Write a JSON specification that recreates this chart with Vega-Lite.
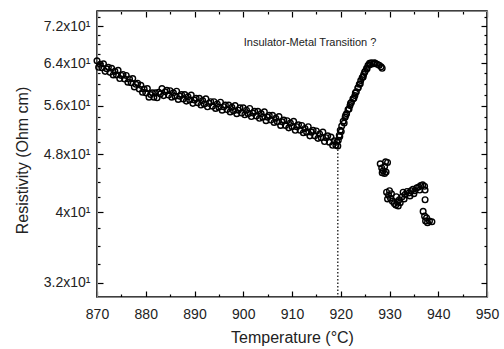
{
  "$schema": "https://vega.github.io/schema/vega-lite/v6.json",
  "autosize": {"type": "none"},
  "padding": {"left": 97, "top": 11, "right": 17, "bottom": 52},
  "width": 390,
  "height": 286,
  "background": "white",
  "config": {
    "view": {"stroke": "black", "strokeWidth": 1.5},
    "axis": {"grid": false, "labelFont": "Liberation Sans", "labelFontSize": 14, "labelColor": "#222", "titleFont": "Liberation Sans", "titleFontSize": 16, "titleFontWeight": "normal", "titleColor": "#222"}
  },
  "datasets": {
    "pts": [
      {"T": 870.0, "R": 64.5}, {"T": 870.33, "R": 63.2}, {"T": 870.67, "R": 63.8},
      {"T": 871.0, "R": 63.1}, {"T": 871.33, "R": 63.9}, {"T": 871.67, "R": 62.4},
      {"T": 872.0, "R": 62.9}, {"T": 872.33, "R": 63.2}, {"T": 872.67, "R": 62.2},
      {"T": 873.0, "R": 63.0}, {"T": 873.33, "R": 61.7}, {"T": 873.67, "R": 62.4},
      {"T": 874.0, "R": 61.7}, {"T": 874.33, "R": 62.6}, {"T": 874.67, "R": 61.0},
      {"T": 875.0, "R": 61.6}, {"T": 875.33, "R": 61.8}, {"T": 875.67, "R": 60.9},
      {"T": 876.0, "R": 61.6}, {"T": 876.33, "R": 60.3}, {"T": 876.67, "R": 60.9},
      {"T": 877.0, "R": 60.2}, {"T": 877.33, "R": 61.0}, {"T": 877.67, "R": 59.4},
      {"T": 878.0, "R": 59.9}, {"T": 878.33, "R": 60.1}, {"T": 878.67, "R": 59.0},
      {"T": 879.0, "R": 59.7}, {"T": 879.33, "R": 58.4}, {"T": 879.67, "R": 59.0},
      {"T": 880.0, "R": 58.3}, {"T": 880.33, "R": 59.1}, {"T": 880.67, "R": 57.5},
      {"T": 881.0, "R": 58.0}, {"T": 881.33, "R": 58.3}, {"T": 881.67, "R": 57.5},
      {"T": 882.0, "R": 58.3}, {"T": 882.33, "R": 57.4}, {"T": 882.67, "R": 58.4},
      {"T": 883.0, "R": 58.1}, {"T": 883.33, "R": 59.1}, {"T": 883.67, "R": 57.8},
      {"T": 884.0, "R": 58.5}, {"T": 884.33, "R": 58.8}, {"T": 884.67, "R": 57.9},
      {"T": 885.0, "R": 58.7}, {"T": 885.33, "R": 57.5}, {"T": 885.67, "R": 58.3},
      {"T": 886.0, "R": 57.7}, {"T": 886.33, "R": 58.6}, {"T": 886.67, "R": 57.1},
      {"T": 887.0, "R": 57.7}, {"T": 887.33, "R": 58.0}, {"T": 887.67, "R": 57.2},
      {"T": 888.0, "R": 58.0}, {"T": 888.33, "R": 56.8}, {"T": 888.67, "R": 57.6},
      {"T": 889.0, "R": 57.0}, {"T": 889.33, "R": 57.9}, {"T": 889.67, "R": 56.4},
      {"T": 890.0, "R": 57.0}, {"T": 890.33, "R": 57.3}, {"T": 890.67, "R": 56.5},
      {"T": 891.0, "R": 57.3}, {"T": 891.33, "R": 56.1}, {"T": 891.67, "R": 56.9},
      {"T": 892.0, "R": 56.3}, {"T": 892.33, "R": 57.2}, {"T": 892.67, "R": 55.8},
      {"T": 893.0, "R": 56.4}, {"T": 893.33, "R": 56.7}, {"T": 893.67, "R": 55.9},
      {"T": 894.0, "R": 56.7}, {"T": 894.33, "R": 55.5}, {"T": 894.67, "R": 56.3},
      {"T": 895.0, "R": 55.7}, {"T": 895.33, "R": 56.6}, {"T": 895.67, "R": 55.2},
      {"T": 896.0, "R": 55.8}, {"T": 896.33, "R": 56.1}, {"T": 896.67, "R": 55.3},
      {"T": 897.0, "R": 56.1}, {"T": 897.33, "R": 54.9}, {"T": 897.67, "R": 55.7},
      {"T": 898.0, "R": 55.1}, {"T": 898.33, "R": 56.0}, {"T": 898.67, "R": 54.6},
      {"T": 899.0, "R": 55.2}, {"T": 899.33, "R": 55.6}, {"T": 899.67, "R": 54.7},
      {"T": 900.0, "R": 55.6}, {"T": 900.33, "R": 54.4}, {"T": 900.67, "R": 55.2},
      {"T": 901.0, "R": 54.6}, {"T": 901.33, "R": 55.5}, {"T": 901.67, "R": 54.1},
      {"T": 902.0, "R": 54.7}, {"T": 902.33, "R": 55.0}, {"T": 902.67, "R": 54.2},
      {"T": 903.0, "R": 55.0}, {"T": 903.33, "R": 53.8}, {"T": 903.67, "R": 54.6},
      {"T": 904.0, "R": 54.0}, {"T": 904.33, "R": 54.9}, {"T": 904.67, "R": 53.4},
      {"T": 905.0, "R": 54.0}, {"T": 905.33, "R": 54.3}, {"T": 905.67, "R": 53.5},
      {"T": 906.0, "R": 54.3}, {"T": 906.33, "R": 53.1}, {"T": 906.67, "R": 53.8},
      {"T": 907.0, "R": 53.2}, {"T": 907.33, "R": 54.1}, {"T": 907.67, "R": 52.6},
      {"T": 908.0, "R": 53.2}, {"T": 908.33, "R": 53.5}, {"T": 908.67, "R": 52.6},
      {"T": 909.0, "R": 53.4}, {"T": 909.33, "R": 52.2}, {"T": 909.67, "R": 53.0},
      {"T": 910.0, "R": 52.4}, {"T": 910.33, "R": 53.3}, {"T": 910.67, "R": 51.8},
      {"T": 911.0, "R": 52.4}, {"T": 911.33, "R": 52.7}, {"T": 911.67, "R": 51.8},
      {"T": 912.0, "R": 52.6}, {"T": 912.33, "R": 51.4}, {"T": 912.67, "R": 52.1},
      {"T": 913.0, "R": 51.5}, {"T": 913.33, "R": 52.4}, {"T": 913.67, "R": 50.9},
      {"T": 914.0, "R": 51.5}, {"T": 914.33, "R": 51.8}, {"T": 914.67, "R": 50.9},
      {"T": 915.0, "R": 51.7}, {"T": 915.33, "R": 50.5}, {"T": 915.67, "R": 51.2},
      {"T": 916.0, "R": 50.6}, {"T": 916.33, "R": 51.5}, {"T": 916.67, "R": 50.0},
      {"T": 917.0, "R": 50.6}, {"T": 917.33, "R": 50.9}, {"T": 917.67, "R": 49.9},
      {"T": 918.0, "R": 50.7}, {"T": 918.33, "R": 49.4}, {"T": 918.67, "R": 50.1},
      {"T": 919.0, "R": 49.4}, {"T": 919.2, "R": 49.9}, {"T": 919.4, "R": 49.3},
      {"T": 919.5, "R": 50.2}, {"T": 919.7, "R": 51.0}, {"T": 919.9, "R": 51.8}, {"T": 920.2, "R": 52.5}, {"T": 920.5, "R": 53.3},
      {"T": 920.9, "R": 54.0}, {"T": 921.2, "R": 54.6}, {"T": 921.5, "R": 55.3}, {"T": 921.9, "R": 56.0}, {"T": 922.2, "R": 56.6},
      {"T": 922.5, "R": 57.2}, {"T": 922.9, "R": 57.8}, {"T": 923.2, "R": 58.5}, {"T": 923.5, "R": 59.2}, {"T": 923.8, "R": 59.9},
      {"T": 924.1, "R": 60.6}, {"T": 924.4, "R": 61.2}, {"T": 924.7, "R": 61.8}, {"T": 925.0, "R": 62.4}, {"T": 925.3, "R": 63.0},
      {"T": 925.6, "R": 63.6}, {"T": 925.9, "R": 64.0}, {"T": 926.3, "R": 64.1}, {"T": 926.7, "R": 63.9}, {"T": 927.1, "R": 64.0},
      {"T": 927.5, "R": 63.8}, {"T": 927.9, "R": 63.6}, {"T": 928.3, "R": 63.3}, {"T": 928.5, "R": 63.0},
      {"T": 919.8, "R": 50.8}, {"T": 920.1, "R": 51.6}, {"T": 920.7, "R": 53.0}, {"T": 921.0, "R": 54.3}, {"T": 921.7, "R": 55.4},
      {"T": 922.0, "R": 56.4}, {"T": 922.7, "R": 57.3}, {"T": 923.0, "R": 58.3}, {"T": 923.6, "R": 59.3}, {"T": 924.0, "R": 60.0},
      {"T": 924.6, "R": 61.3}, {"T": 924.9, "R": 62.2}, {"T": 925.4, "R": 62.9}, {"T": 926.0, "R": 63.7}, {"T": 926.9, "R": 64.1},
      {"T": 928.1, "R": 46.6}, {"T": 928.4, "R": 46.0}, {"T": 928.7, "R": 45.6}, {"T": 929.0, "R": 46.2}, {"T": 929.3, "R": 45.4},
      {"T": 929.6, "R": 46.8}, {"T": 929.0, "R": 45.2}, {"T": 928.5, "R": 45.3}, {"T": 929.2, "R": 46.9},
      {"T": 929.4, "R": 42.6}, {"T": 929.8, "R": 42.2}, {"T": 930.2, "R": 41.8}, {"T": 930.6, "R": 41.4}, {"T": 931.0, "R": 41.1},
      {"T": 931.3, "R": 40.9}, {"T": 931.6, "R": 41.3}, {"T": 932.0, "R": 41.6}, {"T": 932.2, "R": 41.2}, {"T": 932.6, "R": 42.0},
      {"T": 932.8, "R": 42.6}, {"T": 933.2, "R": 42.3}, {"T": 933.6, "R": 42.7}, {"T": 934.0, "R": 42.5}, {"T": 934.4, "R": 42.8},
      {"T": 934.8, "R": 43.0}, {"T": 935.2, "R": 42.8}, {"T": 935.6, "R": 43.2}, {"T": 936.0, "R": 43.3}, {"T": 936.4, "R": 43.5},
      {"T": 936.8, "R": 43.6}, {"T": 937.2, "R": 43.4}, {"T": 937.3, "R": 42.9}, {"T": 937.3, "R": 41.6}, {"T": 930.4, "R": 42.4},
      {"T": 931.4, "R": 42.0}, {"T": 933.0, "R": 41.7}, {"T": 929.6, "R": 41.7}, {"T": 930.0, "R": 42.8}, {"T": 931.8, "R": 40.8},
      {"T": 934.2, "R": 42.1}, {"T": 935.0, "R": 42.4}, {"T": 936.2, "R": 42.9},
      {"T": 936.9, "R": 40.1}, {"T": 937.2, "R": 39.5}, {"T": 937.4, "R": 38.9}, {"T": 937.8, "R": 38.7}, {"T": 938.2, "R": 38.9},
      {"T": 938.7, "R": 38.8}, {"T": 937.6, "R": 39.3}
    ],
    "line": [{"T": 919.4, "R": 49.3, "R2": 30.6}],
    "note": [{"T": 913.7, "R": 68.3, "label": "Insulator-Metal Transition ?"}]
  },
  "resolve": {"axis": {"x": "independent", "y": "independent"}},
  "layer": [
    {
      "data": {"name": "pts"},
      "mark": {"type": "point", "shape": "circle", "filled": false, "stroke": "black", "strokeWidth": 1.4, "size": 32, "opacity": 1},
      "encoding": {
        "x": {"field": "T", "type": "quantitative",
          "scale": {"domain": [870, 950], "nice": false, "zero": false},
          "axis": {"orient": "bottom", "values": [870,880,890,900,910,920,930,940,950],
            "tickColor": "black", "tickWidth": 1.2, "tickSize": -6, "labelPadding": 16, "labelFlush": false,
            "title": "Temperature (°C)", "titleX": 195, "titleY": 40, "titleBaseline": "middle", "titleAlign": "center"}},
        "y": {"field": "R", "type": "quantitative",
          "scale": {"type": "log", "domain": [30.6, 75.5], "nice": false, "zero": false},
          "axis": {"orient": "left", "values": [32,40,48,56,64,72],
            "labelExpr": "(datum.value / 10) + 'x10\u00b9'",
            "tickColor": "black", "tickWidth": 1.2, "tickSize": -6, "labelPadding": 13,
            "title": "Resistivity (Ohm cm)", "titleX": -75, "titleY": 149, "titleAngle": -90, "titleBaseline": "middle", "titleAlign": "center"}}
      }
    },
    {
      "data": {"name": "line"},
      "mark": {"type": "rule", "stroke": "black", "strokeWidth": 1.2, "strokeDash": [1.5, 2]},
      "encoding": {
        "x": {"field": "T", "type": "quantitative",
          "axis": {"orient": "top", "values": [870,880,890,900,910,920,930,940,950], "labels": false, "title": null,
            "tickColor": "black", "tickWidth": 1.2, "tickSize": -6}},
        "y": {"field": "R", "type": "quantitative",
          "axis": {"orient": "right", "values": [32,40,48,56,64,72], "labels": false, "title": null,
            "tickColor": "black", "tickWidth": 1.2, "tickSize": -6}},
        "y2": {"field": "R2"}
      }
    },
    {
      "data": {"name": "note"},
      "mark": {"type": "text", "font": "Liberation Sans", "fontSize": 11, "color": "#222", "align": "center", "baseline": "middle"},
      "encoding": {
        "x": {"field": "T", "type": "quantitative",
          "axis": {"orient": "bottom", "values": [875,885,895,905,915,925,935,945], "labels": false, "title": null,
            "tickColor": "black", "tickWidth": 1.2, "tickSize": -3}},
        "y": {"field": "R", "type": "quantitative",
          "axis": {"orient": "left", "values": [34,36,38,42,44,46,50,52,54,58,60,62,66,68,70,74], "labels": false, "title": null,
            "tickColor": "black", "tickWidth": 1.2, "tickSize": -3}},
        "text": {"field": "label"}
      }
    },
    {
      "data": {"name": "note"},
      "mark": {"type": "point", "opacity": 0},
      "encoding": {
        "x": {"field": "T", "type": "quantitative",
          "axis": {"orient": "top", "values": [875,885,895,905,915,925,935,945], "labels": false, "title": null,
            "tickColor": "black", "tickWidth": 1.2, "tickSize": -3}},
        "y": {"field": "R", "type": "quantitative",
          "axis": {"orient": "right", "values": [34,36,38,42,44,46,50,52,54,58,60,62,66,68,70,74], "labels": false, "title": null,
            "tickColor": "black", "tickWidth": 1.2, "tickSize": -3}}
      }
    }
  ]
}
